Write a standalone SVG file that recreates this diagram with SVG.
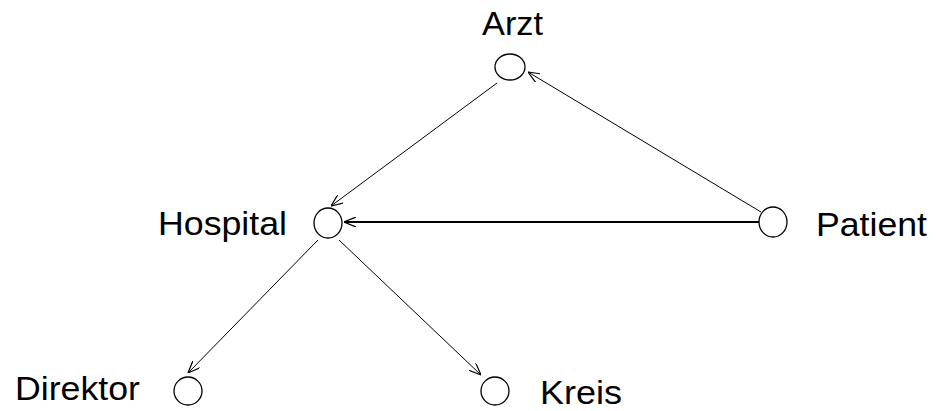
<svg xmlns="http://www.w3.org/2000/svg" width="936" height="411" viewBox="0 0 936 411">
<defs>
<style>
.node ellipse{fill:#fff;stroke:#000;stroke-width:1.3}
.lbl{font-family:"Liberation Sans",Arial,sans-serif;font-size:34px;fill:#000}
.edge{stroke:#000;stroke-width:1;fill:none;marker-end:url(#ah)}
.thick{stroke-width:2}
</style>
<marker id="ah" viewBox="0 0 12 10" refX="12" refY="5" markerWidth="12" markerHeight="10" markerUnits="userSpaceOnUse" orient="auto">
<path d="M0,0 L12,5 L0,10" fill="none" stroke="#000" stroke-width="1.2"/>
</marker>
</defs>
<g id="connectors">
<line class="edge" x1="497" y1="83" x2="331" y2="206"/>
<line class="edge" x1="761" y1="212" x2="528" y2="72"/>
<line class="edge thick" x1="759" y1="222" x2="344" y2="222"/>
<line class="edge" x1="318" y1="240" x2="188" y2="373"/>
<line class="edge" x1="339" y1="240" x2="481" y2="375"/>
</g>
<g id="arzt" class="node">
<ellipse cx="510" cy="67" rx="15" ry="13"/>
<text class="lbl" x="482" y="35" textLength="61" lengthAdjust="spacingAndGlyphs">Arzt</text>
</g>
<g id="hospital" class="node">
<ellipse cx="328" cy="223" rx="14" ry="15"/>
<text class="lbl" x="158" y="235" textLength="129" lengthAdjust="spacingAndGlyphs">Hospital</text>
</g>
<g id="patient" class="node">
<ellipse cx="773" cy="222" rx="14" ry="15"/>
<text class="lbl" x="816" y="236" textLength="111" lengthAdjust="spacingAndGlyphs">Patient</text>
</g>
<g id="direktor" class="node">
<ellipse cx="188" cy="391" rx="14" ry="14"/>
<text class="lbl" x="15" y="400" textLength="125" lengthAdjust="spacingAndGlyphs">Direktor</text>
</g>
<g id="kreis" class="node">
<ellipse cx="495" cy="391" rx="14" ry="14"/>
<text class="lbl" x="540" y="404" textLength="82" lengthAdjust="spacingAndGlyphs">Kreis</text>
</g>
</svg>
